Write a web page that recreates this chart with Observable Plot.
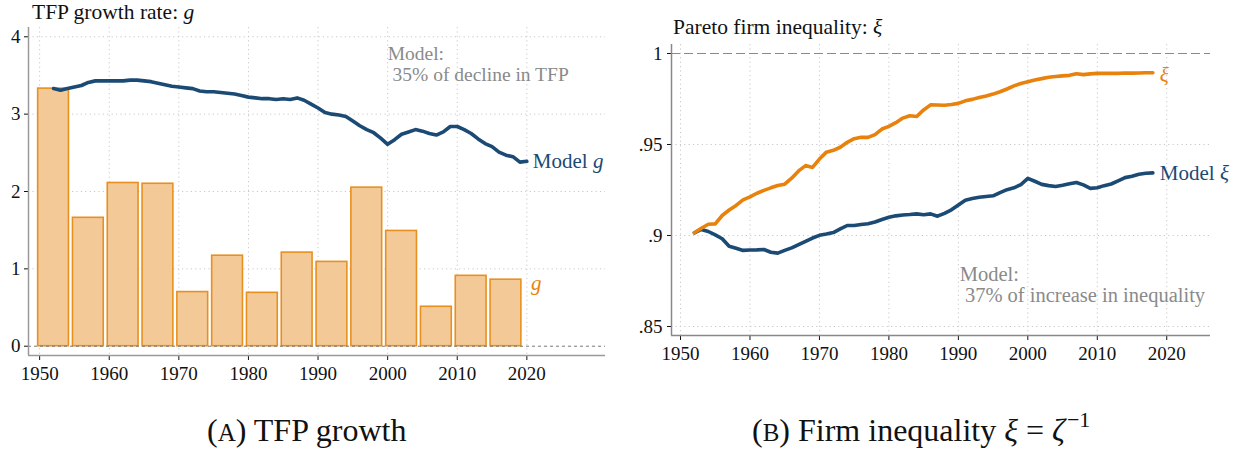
<!DOCTYPE html>
<html><head><meta charset="utf-8">
<script src="https://cdn.jsdelivr.net/npm/d3@7"></script>
<script src="https://cdn.jsdelivr.net/npm/@observablehq/plot@0.6"></script>
<style>
body{margin:0;background:#fff;}
#wrap{position:relative;width:1234px;height:455px;font-family:"Liberation Serif","Times New Roman",serif;color:#111;overflow:hidden}
.panel{position:absolute;top:0;}
.title{position:absolute;font-size:21.5px;line-height:1;white-space:nowrap}
.cap{position:absolute;font-size:32px;line-height:1;white-space:nowrap}
.sc{font-size:25px}
.op{margin:0 8px}
</style></head><body>
<div id="wrap">
  <div id="A" class="panel" style="left:0"></div>
  <div id="B" class="panel" style="left:615px"></div>
  <div class="title" style="left:32px;top:2px">TFP growth rate: <i>g</i></div>
  <div class="title" style="left:673px;top:17px">Pareto firm inequality: <i>ξ</i></div>
  <div class="cap" style="left:207px;top:414px">(<span class="sc">A</span>) TFP growth</div>
  <div class="cap" style="left:752px;top:414px">(<span class="sc">B</span>) Firm inequality <i>ξ</i><span class="op">=</span><i>ζ</i><sup style="font-size:22px;vertical-align:14px;line-height:0;margin-left:2px">−1</sup></div>
</div>
<script>
// ---------- data ----------
const barYears = [1952,1957,1962,1967,1972,1977,1982,1987,1992,1997,2002,2007,2012,2017];
const barG     = [3.33,1.66,2.11,2.10,0.70,1.17,0.69,1.21,1.09,2.05,1.49,0.51,0.91,0.86];

const gYears = [1952,1953,1954,1955,1956,1957,1958,1959,1960,1961,1962,1963,1964,1965,1966,1967,1968,1969,1970,1971,1972,1973,1974,1975,1976,1977,1978,1979,1980,1981,1982,1983,1984,1985,1986,1987,1988,1989,1990,1991,1992,1993,1994,1995,1996,1997,1998,1999,2000,2001,2002,2003,2004,2005,2006,2007,2008,2009,2010,2011,2012,2013,2014,2015,2016,2017,2018,2019,2020];
const modelG = [3.33,3.31,3.33,3.35,3.37,3.41,3.43,3.43,3.43,3.43,3.43,3.44,3.44,3.43,3.42,3.40,3.38,3.36,3.35,3.34,3.33,3.30,3.29,3.29,3.28,3.27,3.26,3.24,3.22,3.21,3.20,3.20,3.19,3.20,3.19,3.21,3.18,3.13,3.08,3.02,3.00,2.99,2.97,2.91,2.85,2.80,2.76,2.69,2.61,2.67,2.74,2.77,2.80,2.78,2.75,2.73,2.77,2.84,2.84,2.80,2.75,2.68,2.62,2.58,2.51,2.47,2.45,2.38,2.39];

const xiYears = [1952,1953,1954,1955,1956,1957,1958,1959,1960,1961,1962,1963,1964,1965,1966,1967,1968,1969,1970,1971,1972,1973,1974,1975,1976,1977,1978,1979,1980,1981,1982,1983,1984,1985,1986,1987,1988,1989,1990,1991,1992,1993,1994,1995,1996,1997,1998,1999,2000,2001,2002,2003,2004,2005,2006,2007,2008,2009,2010,2011,2012,2013,2014,2015,2016,2017,2018];
const dataXi = [.9015,.9040,.9062,.9064,.9110,.9140,.9165,.9196,.9212,.9232,.9248,.9262,.9275,.9282,.9315,.9355,.9384,.9374,.9420,.9458,.9468,.9485,.9512,.9532,.9540,.9539,.9554,.9585,.9600,.9620,.9645,.9658,.9654,.9690,.9718,.9717,.9716,.9720,.9726,.9740,.9748,.9758,.9767,.9777,.9790,.9805,.9822,.9835,.9845,.9855,.9862,.9870,.9874,.9877,.9880,.9889,.9884,.9888,.9891,.9891,.9891,.9891,.9893,.9892,.9893,.9894,.9894];
const modelXi = [.9015,.9033,.9022,.9003,.8982,.8941,.8930,.8918,.8920,.8921,.8923,.8908,.8903,.8918,.8932,.8950,.8968,.8986,.9001,.9008,.9016,.9036,.9055,.9055,.9060,.9065,.9074,.9088,.9100,.9108,.9113,.9115,.9119,.9114,.9119,.9106,.9122,.9141,.9168,.9194,.9203,.9210,.9214,.9218,.9236,.9252,.9262,.9280,.9314,.9298,.9281,.9274,.9269,.9276,.9284,.9291,.9278,.9259,.9262,.9274,.9283,.9300,.9318,.9326,.9337,.9342,.9344];

const xTicks = [1950,1960,1970,1980,1990,2000,2010,2020];
const yTicksA = [0,1,2,3,4];
const yTicksB = [.85,.9,.95,1];

// ---------- styles ----------
const NAVY = "#1b4a74", ORANGE = "#e8820c", BARFILL = "#f4c998", BARLINE = "#e8901f";
const GRID = "#c8c8c8", AXIS = "#9a9a9a", NOTE = "#8a8a8a";
const font = {fontFamily:"'Liberation Serif', 'Times New Roman', serif", fontSize:"19px", color:"#111", background:"transparent", overflow:"visible"};

const bars = barYears.map((y,i)=>({year:y, v:barG[i]}));
const gLine = gYears.map((y,i)=>({year:y, v:modelG[i]}));
const xiData = xiYears.map((y,i)=>({year:y, v:dataXi[i]}));
const xiModel = xiYears.map((y,i)=>({year:y, v:modelXi[i]}));

// ---------- Panel A ----------
const xDomA = [1948.4, 2031.3], yDomA = [-0.12, 4.12];
const A = Plot.plot({
  width: 615, height: 392,
  marginLeft: 28, marginRight: 10, marginTop: 27, marginBottom: 37,
  style: font,
  x: {domain: xDomA, ticks: xTicks, tickFormat: d=>String(d), tickSize: 5, tickPadding: 6, label: null},
  y: {domain: yDomA, ticks: yTicksA, tickFormat: d=>String(d), tickSize: 4, tickPadding: 4, label: null},
  marks: [
    Plot.ruleX(xTicks, {stroke: GRID, strokeDasharray: "1.2,3.2", strokeWidth: 1}),
    Plot.ruleY(yTicksA.filter(d=>d>0), {stroke: GRID, strokeDasharray: "1.2,3.2", strokeWidth: 1}),
    Plot.rectY(bars, {x1: d=>d.year-2.5, x2: d=>d.year+2.5, y: "v", fill: BARFILL, stroke: BARLINE, strokeWidth: 1.6, insetLeft: 2, insetRight: 2}),
    Plot.ruleY([0], {stroke: "#777", strokeDasharray: "3,3", strokeWidth: 1}),
    Plot.line(gLine, {x: "year", y: "v", stroke: NAVY, strokeWidth: 3.6}),
    Plot.text(gLine.slice(-1), {x: "year", y: "v", text: ()=>"Model g", textAnchor: "start", dx: 6, fill: NAVY, fontSize: 21}),
    Plot.text(bars.slice(-1), {x: "year", y: "v", text: ()=>"g", textAnchor: "start", dx: 25, dy: 4, fill: ORANGE, fontSize: 21, fontStyle: "italic"}),
    Plot.text([{x: 2000.0, y: 3.9}], {x: "x", y: "y", text: ()=>"Model:\n 35% of decline in TFP", textAnchor: "start", lineAnchor: "top", lineHeight: 1.1, fill: NOTE, fontSize: 19.5}),
    Plot.ruleX([xDomA[0]], {y1: yDomA[0], y2: yDomA[1], stroke: AXIS, strokeWidth: 1.5}),
    Plot.ruleY([yDomA[0]], {x1: xDomA[0], x2: xDomA[1], stroke: AXIS, strokeWidth: 1.5})
  ]
});
document.getElementById("A").appendChild(A);

// ---------- Panel B ----------
const xDomB = [1948.7, 2026.3], yDomB = [0.84505, 1.00495];
const B = Plot.plot({
  width: 619, height: 392,
  marginLeft: 56, marginRight: 24, marginTop: 44, marginBottom: 57,
  style: font,
  x: {domain: xDomB, ticks: xTicks, tickFormat: d=>String(d), tickSize: 5, tickPadding: 6, label: null},
  y: {domain: yDomB, ticks: yTicksB, tickFormat: d=> d===1 ? "1" : String(d).replace(/^0/, ""), tickSize: 4, tickPadding: 5, label: null},
  marks: [
    Plot.ruleX(xTicks, {stroke: GRID, strokeDasharray: "1.2,3.2", strokeWidth: 1}),
    Plot.ruleY(yTicksB.filter(d=>d<1), {stroke: GRID, strokeDasharray: "1.2,3.2", strokeWidth: 1}),
    Plot.ruleY([1], {stroke: "#8a8a8a", strokeDasharray: "9,4", strokeWidth: 1.2}),
    Plot.line(xiModel, {x: "year", y: "v", stroke: NAVY, strokeWidth: 3.6}),
    Plot.line(xiData, {x: "year", y: "v", stroke: ORANGE, strokeWidth: 3.6}),
    Plot.text(xiData.slice(-1), {x: "year", y: "v", text: ()=>"ξ", textAnchor: "start", dx: 7, dy: 2, fill: ORANGE, fontSize: 21, fontStyle: "italic"}),
    Plot.text(xiModel.slice(-1), {x: "year", y: "v", text: ()=>"Model ξ", textAnchor: "start", dx: 7, fill: NAVY, fontSize: 21}),
    Plot.text([{x: 1990.2, y: 0.8829}], {x: "x", y: "y", text: ()=>"Model:\n 37% of increase in inequality", textAnchor: "start", lineAnchor: "top", lineHeight: 1.02, fill: NOTE, fontSize: 20.5}),
    Plot.ruleX([xDomB[0]], {y1: yDomB[0], y2: yDomB[1], stroke: "#888", strokeWidth: 1.5}),
    Plot.ruleY([yDomB[0]], {x1: xDomB[0], x2: xDomB[1], stroke: "#888", strokeWidth: 1.5})
  ]
});
document.getElementById("B").appendChild(B);

// italicise math symbols inside the line labels
for (const svg of [A, B]) {
  svg.querySelectorAll("text").forEach(t => {
    if (t.textContent === "Model g") t.innerHTML = 'Model <tspan font-style="italic">g</tspan>';
    if (t.textContent === "Model ξ") t.innerHTML = 'Model <tspan font-style="italic">ξ</tspan>';
  });
}
</script>
</body></html>
